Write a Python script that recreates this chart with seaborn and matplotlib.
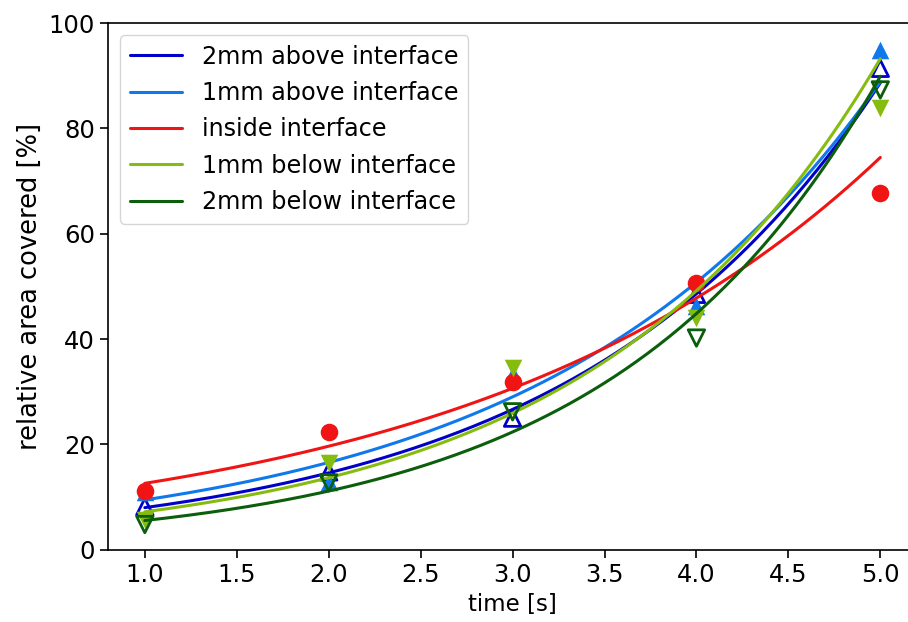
import numpy as np
import pandas as pd
import matplotlib
matplotlib.use("Agg")
import matplotlib.pyplot as plt
import seaborn as sns

# measured points (time in s, area in %)
time = [1.0, 2.0, 3.0, 4.0, 5.0]
above_2mm = [8.2, 14.8, 25.0, 48.5, 91.4]
above_1mm = [11.0, 12.8, 33.4, 46.2, 94.9]
inside = [11.1, 22.3, 31.9, 50.7, 67.7]
below_1mm = [5.6, 16.5, 34.5, 44.0, 83.9]
below_2mm = [4.8, 12.7, 26.2, 40.2, 87.3]

labels = ["2mm above interface", "1mm above interface", "inside interface",
          "1mm below interface", "2mm below interface"]
series = [above_2mm, above_1mm, inside, below_1mm, below_2mm]
colors = ["#0000c8", "#0f78ec", "#f01414", "#86bc10", "#0b5e0b"]
markers = ["^", "^", "o", "v", "v"]
filled = [False, True, True, True, False]

sns.set_style("ticks", {"axes.edgecolor": "black", "text.color": "black",
                        "xtick.color": "black", "ytick.color": "black",
                        "axes.labelcolor": "black"})
plt.rcParams["font.family"] = ["DejaVu Sans"]
plt.rcParams["font.size"] = 17

fig = plt.figure(figsize=(9.08, 6.22), dpi=100)
ax = fig.add_axes([0.119, 0.116, 0.891, 0.847])

x_fit = np.linspace(1.0, 5.0, 200)
for lab, vals, col, mk, fill in zip(labels, series, colors, markers, filled):
    # exponential fit: straight line through log(values)
    b, a = np.polyfit(time, np.log(vals), 1)
    fit = pd.DataFrame({"t": x_fit, "y": np.exp(a + b * x_fit)})
    pts = pd.DataFrame({"t": time, "y": vals})
    if fill:
        sns.scatterplot(data=pts, x="t", y="y", marker=mk, s=160, color=col,
                        edgecolor=col, linewidth=0, ax=ax, zorder=2)
    else:
        sns.scatterplot(data=pts, x="t", y="y", marker=mk, s=140, facecolor="none",
                        edgecolor=col, linewidth=2.0, ax=ax, zorder=2)
    sns.lineplot(data=fit, x="t", y="y", color=col, linewidth=2.2, label=lab, ax=ax)

ax.set_xlim(0.8, 5.2)
ax.set_ylim(0, 100)
ax.set_xticks(np.arange(1.0, 5.01, 0.5))
ax.set_yticks(range(0, 101, 20))
ax.xaxis.set_major_formatter(matplotlib.ticker.FormatStrFormatter("%.1f"))
ax.tick_params(labelsize=17.5, length=6, width=1.2)
for sp in ax.spines.values():
    sp.set_visible(True)
    sp.set_linewidth(1.2)
ax.set_xlabel("time [s]", fontsize=16.5)
ax.set_ylabel("relative area covered [%]", fontsize=18.5)
ax.legend(loc="upper left", fontsize=17.2, handlelength=2.2, borderaxespad=0.5,
          labelspacing=0.52, handletextpad=0.85, edgecolor="0.8")

fig.savefig("out.png", dpi=100)
